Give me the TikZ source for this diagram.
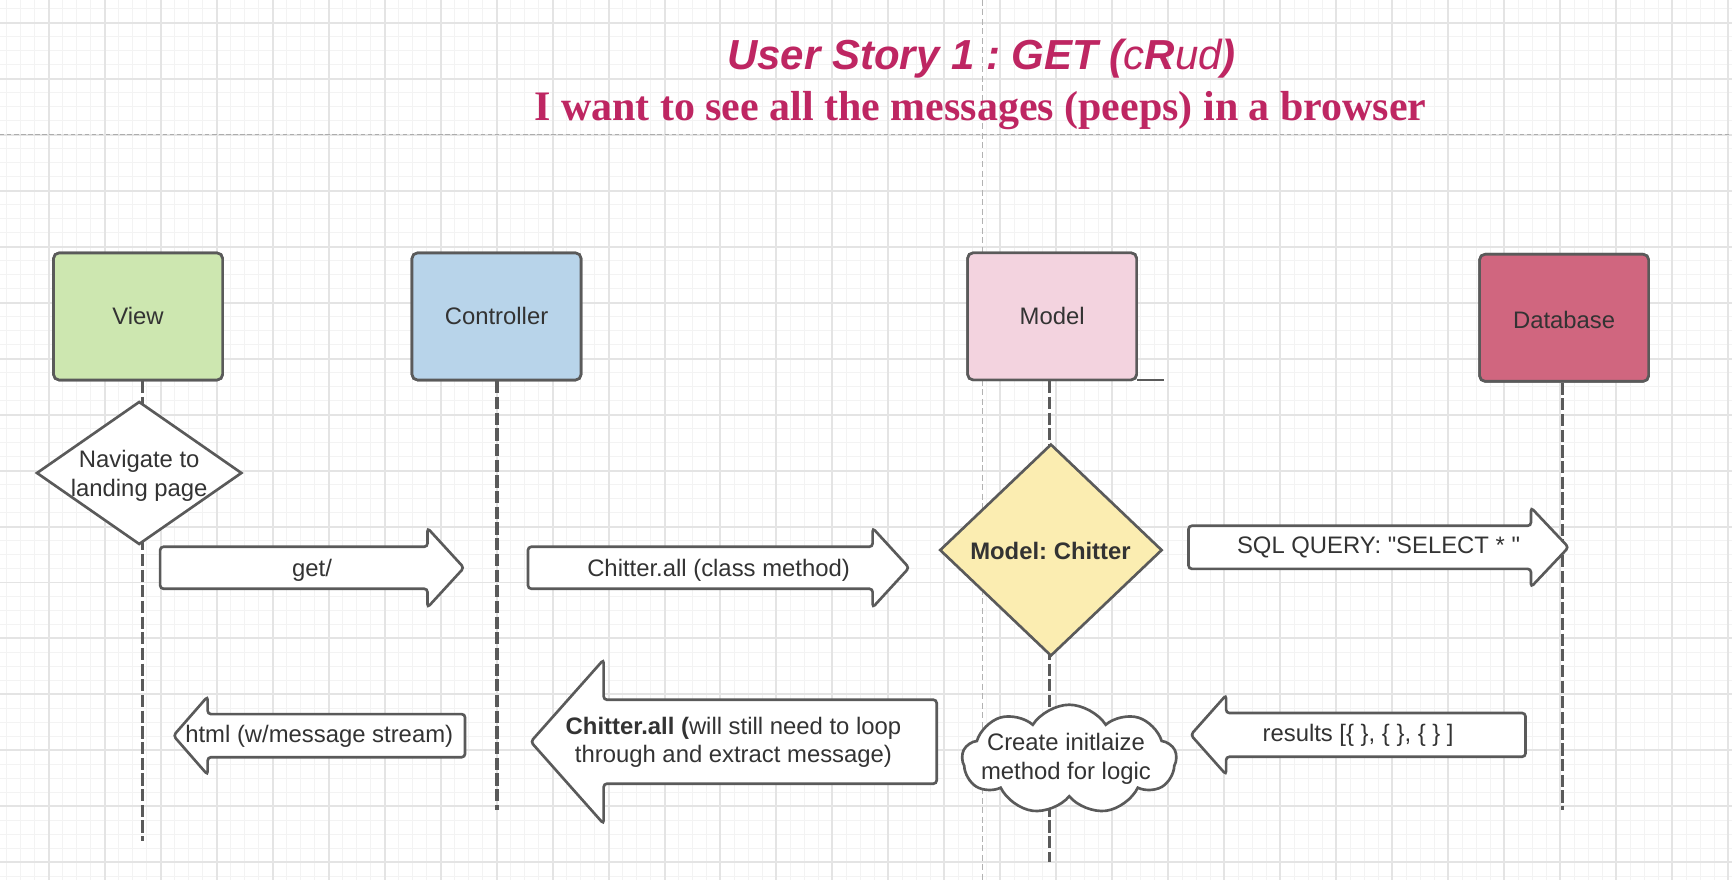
\documentclass[tikz,border=0pt]{standalone}
\usepackage{fontspec}
\setmainfont{Liberation Sans}[Ligatures=TeXOff]
\newfontfamily\titleserif{Liberation Serif}
\usetikzlibrary{shapes.geometric,shapes.symbols}
\definecolor{ink}{HTML}{5A5A5A}
\definecolor{txt}{HTML}{333333}
\definecolor{gmaj}{HTML}{E4E4E4}
\definecolor{gmin}{HTML}{F3F3F3}
\definecolor{ttl}{HTML}{BE2662}
\definecolor{cview}{HTML}{CDE7B0}
\definecolor{cctrl}{HTML}{B8D4EA}
\definecolor{cmodel}{HTML}{F3D3DF}
\definecolor{cdb}{HTML}{D0667F}
\definecolor{cyel}{HTML}{FBEDB1}
\frenchspacing
\newcommand{\RBlk}[6]{\draw[blk] (#1,#4-#5) -- (#2,#4-#5) -- (#2,#4-#6) -- (#3,#4) -- (#2,#4+#6) -- (#2,#4+#5) -- (#1,#4+#5) -- cycle;}
\newcommand{\LBlk}[6]{\draw[blk] (#3,#4-#5) -- (#2,#4-#5) -- (#2,#4-#6) -- (#1,#4) -- (#2,#4+#6) -- (#2,#4+#5) -- (#3,#4+#5) -- cycle;}
\begin{document}
\begin{tikzpicture}[x=0.5pt,y=-0.5pt,
  gminor/.style={draw=gmin, line width=0.5pt},
  gmajor/.style={draw=gmaj, line width=0.9pt},
  box/.style={draw=ink, line width=1.2pt, rounded corners=2.5pt, minimum width=76.5pt, minimum height=57.5pt, inner sep=0pt},
  lbl/.style={font=\fontsize{10.8}{13}\selectfont, text=txt, align=center, inner sep=0pt},
  life/.style={draw=ink, line width=1.5pt, dash pattern=on 5.5pt off 1.6pt},
  blk/.style={draw=ink, fill=white, line width=1.2pt, rounded corners=1.5pt},
  shp/.style={draw=ink, line width=1.2pt, inner sep=0pt}]
\useasboundingbox (0,0) rectangle (1568,797);
\fill[white] (0,0) rectangle (1568,797);
% grid
\foreach \i in {0,...,124} \draw[gminor] ({6.09+12.67*\i},0) -- ({6.09+12.67*\i},797);
\foreach \j in {0,...,62} \draw[gminor] (0,{7.87+12.67*\j}) -- (1568,{7.87+12.67*\j});
\foreach \i in {0,...,30} \draw[gmajor] ({44.1+50.68*\i},0) -- ({44.1+50.68*\i},797);
\foreach \j in {0,...,15} \draw[gmajor] (0,{20.54+50.68*\j}) -- (1568,{20.54+50.68*\j});
% guide lines
\draw[draw=black!30, line width=0.6pt, dash pattern=on 2.7pt off 1.6pt] (889.5,0) -- (889.5,797);
\draw[draw=black!32, line width=0.7pt, dash pattern=on 2pt off 1.2pt] (0,121.6) -- (1568,121.6);
% titles
\node[anchor=base, text=ttl, inner sep=0pt, font=\fontsize{19}{22}\selectfont\itshape] (t1) at (888.5,62.8)
  {\bfseries User Story 1 : GET (\mdseries c\bfseries R\mdseries ud\bfseries)};
\node[anchor=base, text=ttl, inner sep=0pt, font=\titleserif\bfseries\fontsize{19}{22}\selectfont] (t2) at (887.5,109)
  {I want to see all the messages (peeps) in a browser};
% lifeline end points
\coordinate (viewend) at (128.9,761);
\coordinate (ctrlend) at (450,733);
\coordinate (modelend) at (950,780);
\coordinate (dbend) at (1414.6,733);
% boxes
\node[box, fill=cview] (view) at (125,286.5) {};
\node[box, fill=cctrl] (ctrl) at (449.5,286.5) {};
\node[box, fill=cmodel] (model) at (952.5,286.4) {};
\node[box, fill=cdb] (db) at (1416,287.7) {};
% lifelines
\draw[life] (view.south -| viewend) -- (viewend);
\draw[life] (ctrl.south -| ctrlend) -- (ctrlend);
\draw[life] (model.south -| modelend) -- (modelend);
\draw[life] (db.south -| dbend) -- (dbend);
\draw[draw=ink, line width=1.2pt] (model.south east) ++(-1,-1) -- ++(25,0);
% redraw boxes on top
\node[box, fill=cview] at (view) {};
\node[box, fill=cctrl] at (ctrl) {};
\node[box, fill=cmodel] at (model) {};
\node[box, fill=cdb] at (db) {};
\node[lbl] (viewtxt) at (view) {View};
\node[lbl] (ctrltxt) at (ctrl) {Controller};
\node[lbl] (modeltxt) at (model) {Model};
\node[lbl] (dbtxt) at (1416,290) {Database};
% diamonds and cloud
\node[shp, diamond, fill=white, minimum width=93pt, minimum height=64.75pt] (nav) at (126,428.2) {};
\node[lbl] (navtxt) at (126,431) {Navigate to\\landing page};
\node[shp, diamond, fill=cyel, minimum width=100.7pt, minimum height=96pt] (chit) at (951.4,498) {};
\node[lbl, font=\bfseries\fontsize{10.8}{13}\selectfont] (chittxt) at (951,499) {Model: Chitter};
\node[shp, cloud, cloud puffs=9, cloud puff arc=115, aspect=2, fill=white, minimum width=97pt, minimum height=49.5pt] (cloud) at (968,687.5) {};
\node[lbl] (cloudtxt) at (965,687) {Create initlaize\\method for logic};
% block arrows
\RBlk{145}{387}{420}{514}{19}{36}
\node[lbl] (gettxt) at (282.5,516) {get/};
\RBlk{478}{790}{823}{514}{19}{36}
\node[lbl] (calltxt) at (650.5,516) {Chitter.all (class method)};
\RBlk{1076}{1386}{1420}{495.5}{19.5}{36}
\node[lbl] (sqltxt) at (1248,495.5) {SQL QUERY: "SELECT * "};
\LBlk{157}{188}{421}{666}{19.5}{35.5}
\node[lbl] (htmltxt) at (289,667) {html (w/message stream)};
\LBlk{480.5}{546.5}{848}{671.5}{38}{74.4}
\node[lbl] (bigtxt) at (664,672) {\textbf{Chitter.all (}will still need to loop\\through and extract message)};
\LBlk{1078}{1110}{1381}{665.3}{19.8}{36}
\node[lbl] (restxt) at (1229.5,666) {results [\{ \}, \{ \}, \{ \} ]};
\end{tikzpicture}
\end{document}
